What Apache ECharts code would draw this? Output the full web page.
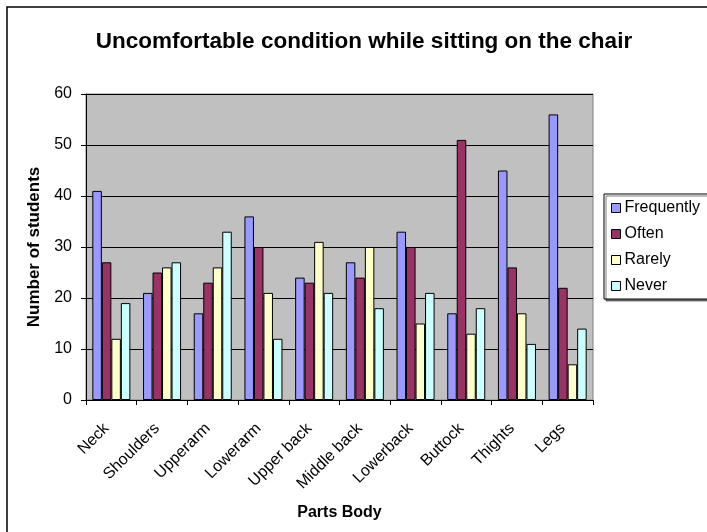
<!DOCTYPE html>
<html>
<head>
<meta charset="utf-8">
<script src="https://cdn.jsdelivr.net/npm/echarts@6/dist/echarts.min.js"></script>
<style>
  html, body { margin: 0; padding: 0; background: #fff; }
  #chart { width: 707px; height: 532px; }
</style>
</head>
<body>
<div id="chart"></div>
<script>
// Body parts surveyed and counts of students per answer
const categories = ['Neck', 'Shoulders', 'Upperarm', 'Lowerarm', 'Upper back', 'Middle back', 'Lowerback', 'Buttock', 'Thights', 'Legs'];
const frequently = [41, 21, 17, 36, 24, 27, 33, 17, 45, 56];
const often      = [27, 25, 23, 30, 23, 24, 30, 51, 26, 22];
const rarely     = [12, 26, 26, 21, 31, 30, 15, 13, 17, 7];
const never      = [19, 27, 33, 12, 21, 18, 21, 18, 11, 14];
const yTicks = [0, 10, 20, 30, 40, 50, 60];

const FONT = '"Liberation Sans", Arial, sans-serif';

function barSeries(name, data, color) {
  return {
    name: name,
    type: 'bar',
    data: data,
    barGap: '0%',
    barCategoryGap: '25%',
    itemStyle: { color: color, borderColor: '#000', borderWidth: 1 },
    emphasis: { disabled: true }
  };
}

const chart = echarts.init(document.getElementById('chart'), null, { renderer: 'canvas' });
chart.setOption({
  animation: false,
  backgroundColor: '#fff',
  textStyle: { fontFamily: FONT, color: '#000' },
  title: {
    text: 'Uncomfortable condition while sitting on the chair',
    left: 359,
    textAlign: 'center',
    top: 25,
    textStyle: { fontFamily: FONT, fontSize: 22.5, fontWeight: 'bold', color: '#000' }
  },
  graphic: [{
    type: 'rect',
    shape: { x: 7, y: 7, width: 760, height: 600 },
    style: { fill: 'none', stroke: '#000', lineWidth: 1.5 },
    silent: true
  }],
  legend: {
    orient: 'vertical',
    left: 604,
    top: 194,
    padding: [6, 8, 5, 7],
    itemGap: 10,
    itemWidth: 9,
    itemHeight: 9,
    icon: 'rect',
    backgroundColor: '#fff',
    borderColor: '#000',
    borderWidth: 1,
    shadowColor: 'rgba(0,0,0,0.5)',
    shadowOffsetX: 2,
    shadowOffsetY: 2,
    itemStyle: { borderColor: '#000', borderWidth: 1 },
    textStyle: { fontFamily: FONT, fontSize: 16, color: '#000', padding: [0, 0, 0, -1] },
    data: ['Frequently', 'Often', 'Rarely', 'Never']
  },
  grid: {
    left: 86, right: 114, top: 94, bottom: 132,
    show: true,
    backgroundColor: '#C0C0C0',
    borderColor: '#808080',
    borderWidth: 1,
    containLabel: false
  },
  xAxis: {
    type: 'category',
    data: categories,
    name: 'Parts Body',
    nameLocation: 'middle',
    nameGap: 105,
    nameTextStyle: { fontFamily: FONT, fontSize: 16, fontWeight: 'bold', color: '#000' },
    axisLine: { show: true, lineStyle: { color: '#000', width: 1 } },
    axisTick: { show: true, alignWithLabel: false, length: 5, lineStyle: { color: '#000' } },
    axisLabel: {
      rotate: 45, interval: 0, margin: 21,
      padding: [0, 7, 6, 0],
      fontFamily: FONT, fontSize: 16, color: '#000'
    },
    splitLine: { show: false }
  },
  yAxis: {
    type: 'value',
    min: yTicks[0],
    max: yTicks[yTicks.length - 1],
    interval: yTicks[1] - yTicks[0],
    name: 'Number of students',
    nameLocation: 'middle',
    nameGap: 43,
    nameTextStyle: { fontFamily: FONT, fontSize: 17, fontWeight: 'bold', color: '#000' },
    axisLine: { show: true, lineStyle: { color: '#000', width: 1 } },
    axisTick: { show: true, length: 5, lineStyle: { color: '#000' } },
    axisLabel: { fontFamily: FONT, fontSize: 16, color: '#000', margin: 14 },
    splitLine: { show: true, lineStyle: { color: '#000', width: 1 } }
  },
  series: [
    barSeries('Frequently', frequently, '#9999FF'),
    barSeries('Often', often, '#993366'),
    barSeries('Rarely', rarely, '#FFFFCC'),
    barSeries('Never', never, '#CCFFFF')
  ]
});
</script>
</body>
</html>
